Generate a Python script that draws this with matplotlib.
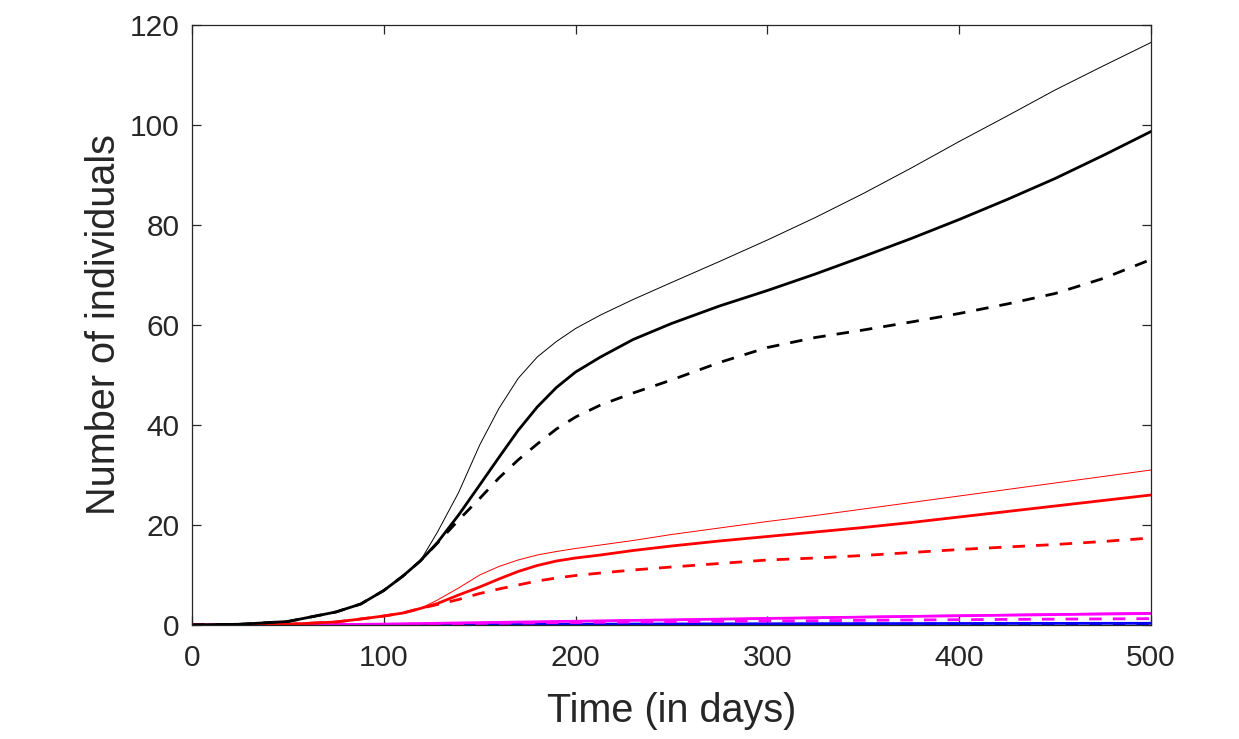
import matplotlib.pyplot as plt

# Time points (days) where the curves were read
t = [0, 25, 50, 75, 88, 100, 110, 119, 128, 139, 150, 160, 170, 180, 190, 200,
     213, 230, 250, 275, 300, 325, 350, 375, 400, 425, 450, 475, 500]

# Black curves
black_thin = [0, 0.15, 0.7, 2.6, 4.2, 6.9, 9.8, 12.8, 18.6, 26.5, 36.0, 43.3, 49.3, 53.6, 56.7, 59.3,
              62.0, 65.1, 68.5, 72.7, 77.0, 81.5, 86.3, 91.4, 96.7, 101.8, 107.0, 111.8, 116.5]
black_thick = [0, 0.15, 0.7, 2.6, 4.2, 6.9, 9.8, 12.8, 16.5, 22.0, 28.0, 33.5, 38.9, 43.6, 47.5, 50.6,
               53.6, 57.1, 60.3, 63.8, 66.9, 70.2, 73.7, 77.3, 81.1, 85.1, 89.3, 93.9, 98.7]
black_dash = [0, 0.15, 0.7, 2.6, 4.2, 6.9, 9.8, 12.8, 16.4, 21.0, 25.3, 29.4, 33.0, 36.2, 39.2, 41.6,
              44.0, 46.4, 49.0, 52.5, 55.5, 57.5, 59.0, 60.6, 62.3, 64.2, 66.3, 69.3, 73.1]

# Red curves
red_thin = [0, 0, 0.15, 0.6, 1.2, 1.8, 2.4, 3.3, 5.0, 7.4, 10.0, 11.7, 13.0, 14.0, 14.7, 15.3,
            16.0, 16.9, 18.1, 19.4, 20.7, 21.9, 23.2, 24.5, 25.8, 27.1, 28.4, 29.7, 31.0]
red_thick = [0, 0, 0.15, 0.6, 1.2, 1.8, 2.4, 3.3, 4.3, 6.0, 7.6, 9.2, 10.7, 11.9, 12.8, 13.4,
             14.0, 14.9, 15.8, 16.8, 17.7, 18.6, 19.5, 20.5, 21.6, 22.7, 23.8, 24.9, 26.0]
red_dash = [0, 0, 0.15, 0.6, 1.2, 1.8, 2.4, 3.3, 4.1, 5.1, 6.3, 7.2, 8.0, 8.8, 9.4, 9.9,
            10.4, 11.0, 11.6, 12.3, 13.0, 13.4, 13.9, 14.5, 15.1, 15.6, 16.1, 16.7, 17.4]

# Magenta curves
mag_thin = [0, 0, 0.02, 0.08, 0.14, 0.2, 0.26, 0.31, 0.37, 0.45, 0.52, 0.58, 0.64, 0.7, 0.76, 0.82,
            0.9, 1.0, 1.12, 1.27, 1.42, 1.57, 1.72, 1.87, 2.0, 2.13, 2.26, 2.38, 2.5]
mag_thick = [0, 0, 0.02, 0.07, 0.13, 0.18, 0.24, 0.29, 0.34, 0.41, 0.48, 0.53, 0.59, 0.64, 0.7, 0.75,
             0.83, 0.92, 1.03, 1.17, 1.31, 1.44, 1.58, 1.72, 1.84, 1.96, 2.08, 2.19, 2.3]
mag_dash = [0, 0, 0.01, 0.05, 0.08, 0.12, 0.16, 0.19, 0.23, 0.27, 0.31, 0.35, 0.39, 0.43, 0.47, 0.5,
            0.55, 0.6, 0.66, 0.73, 0.8, 0.86, 0.93, 1.0, 1.06, 1.12, 1.17, 1.22, 1.27]

# Blue curves
blue_thin = [0, 0, 0, 0.01, 0.02, 0.03, 0.04, 0.05, 0.06, 0.08, 0.1, 0.11, 0.12, 0.14, 0.15, 0.16,
             0.18, 0.2, 0.22, 0.24, 0.26, 0.28, 0.3, 0.31, 0.32, 0.33, 0.34, 0.35, 0.36]
blue_thick = [0, 0, 0, 0.01, 0.02, 0.03, 0.04, 0.05, 0.06, 0.07, 0.09, 0.1, 0.11, 0.13, 0.14, 0.15,
              0.17, 0.19, 0.21, 0.23, 0.25, 0.27, 0.28, 0.29, 0.3, 0.31, 0.32, 0.33, 0.34]
blue_dash = [0, 0, 0, 0.01, 0.01, 0.02, 0.02, 0.03, 0.04, 0.05, 0.06, 0.06, 0.07, 0.08, 0.09, 0.1,
             0.11, 0.12, 0.13, 0.14, 0.15, 0.16, 0.17, 0.17, 0.18, 0.18, 0.19, 0.19, 0.2]

plt.rcParams['font.family'] = ['Liberation Sans', 'DejaVu Sans']

fig = plt.figure(figsize=(12.39, 7.39), dpi=100)
ax = fig.add_axes([192 / 1239, 1 - 625 / 739, (1151 - 192) / 1239, 600 / 739])

dash = (0, (4.5, 4))
groups = [
    ('blue', blue_thin, blue_thick, blue_dash),
    ('magenta', mag_thin, mag_thick, mag_dash),
    ('red', red_thin, red_thick, red_dash),
    ('black', black_thin, black_thick, black_dash),
]
for color, thin, thick, dsh in groups:
    ax.plot(t, thin, color=color, linewidth=0.7)
    ax.plot(t, thick, color=color, linewidth=2.0)
    ax.plot(t, dsh, color=color, linewidth=2.0, linestyle=dash)

ax.set_xlim(0, 500)
ax.set_ylim(0, 120)
ax.set_xticks(range(0, 501, 100))
ax.set_yticks(range(0, 121, 20))

# MATLAB-like box with inward ticks on all sides
text_color = '#262626'
for side in ax.spines.values():
    side.set_color(text_color)
    side.set_linewidth(0.9)
ax.tick_params(direction='in', length=6.5, width=0.9, color=text_color,
               top=True, right=True, labelsize=21.5, labelcolor=text_color)
ax.tick_params(axis='x', pad=14)
ax.tick_params(axis='y', pad=9)

ax.set_xlabel('Time (in days)', fontsize=28.5, color=text_color, labelpad=14)
ax.set_ylabel('Number of individuals', fontsize=28.5, color=text_color, labelpad=5)

fig.savefig('out.png', dpi=100)
